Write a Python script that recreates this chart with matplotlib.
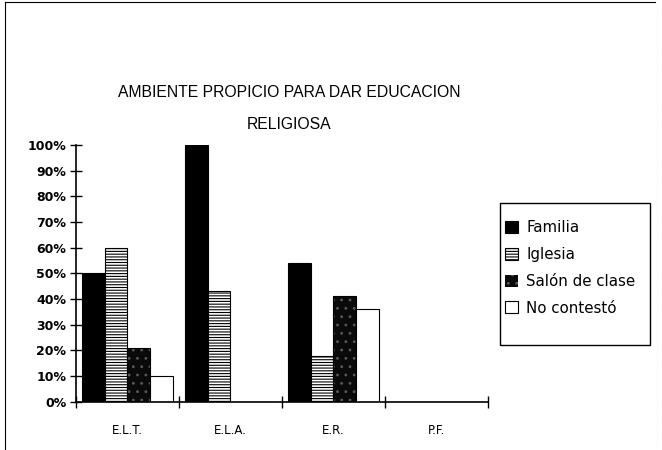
import numpy as np
import matplotlib.pyplot as plt
from matplotlib.lines import Line2D
from matplotlib.patches import Rectangle

categories = ["E.L.T.", "E.L.A.", "E.R.", "P.F."]
series_names = ["Familia", "Iglesia", "Salón de clase", "No contestó"]
familia = [50, 100, 54, 0]
iglesia = [60, 43, 18, 0]
salon = [21, 0, 41, 0]
no_contesto = [10, 0, 36, 0]
yticks = [0, 10, 20, 30, 40, 50, 60, 70, 80, 90, 100]

plt.rcParams["font.family"] = ["DejaVu Sans"]
plt.rcParams["hatch.linewidth"] = 0.8

fig = plt.figure(figsize=(6.62, 4.5), dpi=100)
ax = fig.add_axes([0.1148, 0.1073, 0.6223, 0.5705])

x = np.arange(len(categories)) + 0.5
w = 0.22
offsets = [-1.5 * w, -0.5 * w, 0.5 * w, 1.5 * w]

b1 = ax.bar(x + offsets[0], familia, w, color="black", edgecolor="black", linewidth=0.8)
b2 = ax.bar(x + offsets[1], iglesia, w, color="white", edgecolor="black", linewidth=0.8, hatch="------")
b3 = ax.bar(x + offsets[2], salon, w, color="#0a0a0a", edgecolor="#5a5a5a", linewidth=0, hatch="..")
ax.bar(x + offsets[2], salon, w, color="none", edgecolor="black", linewidth=0.8)
b4 = ax.bar(x + offsets[3], no_contesto, w, color="white", edgecolor="black", linewidth=0.8)

ax.set_xlim(0, 4)
ax.set_ylim(0, 100)
ax.set_yticks(yticks)
ax.set_yticklabels([f"{v}%" for v in yticks], fontsize=9, fontweight="bold")
ax.set_xticks([0, 1, 2, 3, 4])
ax.set_xticklabels([])
ax.set_xticks(x, minor=True)
ax.set_xticklabels(categories, minor=True, fontsize=8.5)
ax.tick_params(axis="x", which="minor", length=0, pad=16)
ax.tick_params(axis="x", which="major", direction="inout", length=8, width=1)
ax.tick_params(axis="y", direction="inout", length=8, width=1, pad=3)
for s in ["top", "right"]:
    ax.spines[s].set_visible(False)
ax.spines["left"].set_linewidth(1.2)
ax.spines["bottom"].set_linewidth(1.2)

title_font = ["Liberation Sans", "DejaVu Sans"]
fig.text(0.437, 0.795, "AMBIENTE PROPICIO PARA DAR EDUCACION",
         ha="center", va="center", fontsize=11.3, family=title_font)
fig.text(0.437, 0.724, "RELIGIOSA", ha="center", va="center", fontsize=11.3,
         family=title_font)

# legend box drawn separately so the padding can differ per side
fig.add_artist(Rectangle((500 / 662, 1 - 345 / 450), 150 / 662, 142 / 450,
                         transform=fig.transFigure, facecolor="white",
                         edgecolor="black", linewidth=1.0))
leg = fig.legend([b1, b2, b3, b4], series_names, loc="center left",
                 bbox_to_anchor=(505 / 662, 1 - 268 / 450), fontsize=10.8,
                 handlelength=0.85, handleheight=0.85, handletextpad=0.55,
                 labelspacing=0.78, borderpad=0.0, borderaxespad=0,
                 frameon=False)

fig.add_artist(Line2D([0.008, 0.008], [0.0, 0.995], color="black", linewidth=0.8))
fig.add_artist(Line2D([0.008, 0.99], [0.995, 0.995], color="black", linewidth=0.8))
fig.add_artist(Line2D([0.992, 0.992], [0.0, 0.995], color="#e6e6e6", linewidth=0.4, linestyle=":"))

fig.savefig("out.png", dpi=100)
